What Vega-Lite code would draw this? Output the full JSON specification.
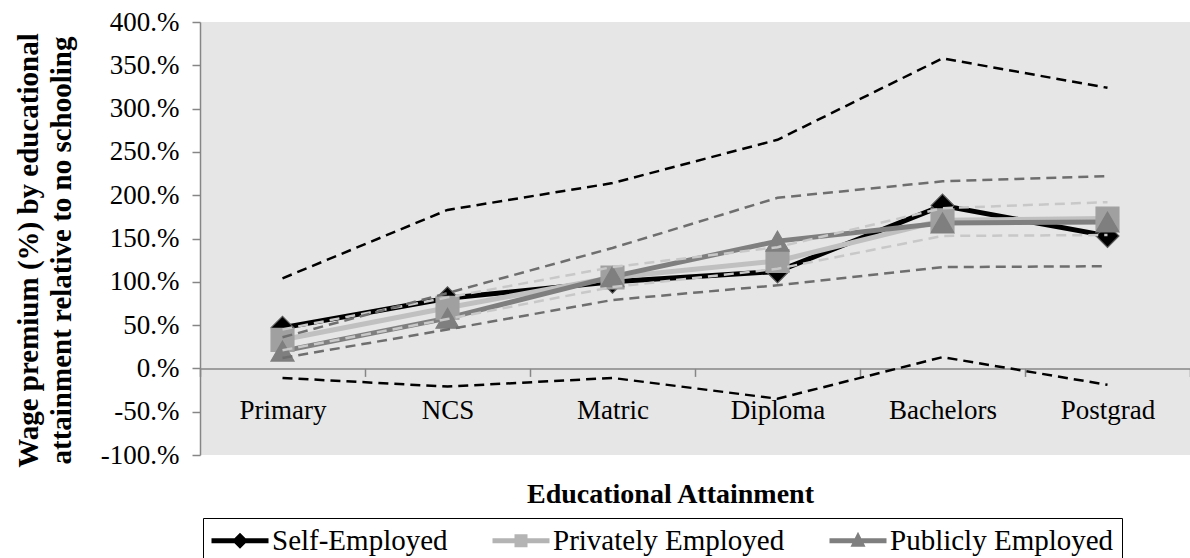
{
  "$schema": "https://vega.github.io/schema/vega-lite/v6.json",
  "width": 990,
  "height": 433,
  "autosize": {"type": "none"},
  "padding": {"left": 200, "top": 22, "right": 0, "bottom": 103},
  "background": "white",
  "config": {
    "view": {"fill": "#e6e6e6", "stroke": null},
    "font": "Liberation Serif",
    "axis": {
      "labelFont": "Liberation Serif",
      "titleFont": "Liberation Serif",
      "labelColor": "black",
      "titleColor": "black",
      "grid": false,
      "domainColor": "#868686",
      "tickColor": "#868686",
      "domainWidth": 1.5,
      "tickWidth": 1.5
    }
  },
  "data": {
    "values": [
      {"edu": "Primary", "series": "Self-Employed", "stat": "est", "value": 47},
      {"edu": "NCS", "series": "Self-Employed", "stat": "est", "value": 81},
      {"edu": "Matric", "series": "Self-Employed", "stat": "est", "value": 100},
      {"edu": "Diploma", "series": "Self-Employed", "stat": "est", "value": 112},
      {"edu": "Bachelors", "series": "Self-Employed", "stat": "est", "value": 188},
      {"edu": "Postgrad", "series": "Self-Employed", "stat": "est", "value": 153},
      {"edu": "Primary", "series": "Privately Employed", "stat": "est", "value": 33},
      {"edu": "NCS", "series": "Privately Employed", "stat": "est", "value": 70},
      {"edu": "Matric", "series": "Privately Employed", "stat": "est", "value": 105},
      {"edu": "Diploma", "series": "Privately Employed", "stat": "est", "value": 124},
      {"edu": "Bachelors", "series": "Privately Employed", "stat": "est", "value": 171},
      {"edu": "Postgrad", "series": "Privately Employed", "stat": "est", "value": 173},
      {"edu": "Primary", "series": "Publicly Employed", "stat": "est", "value": 20},
      {"edu": "NCS", "series": "Publicly Employed", "stat": "est", "value": 58},
      {"edu": "Matric", "series": "Publicly Employed", "stat": "est", "value": 106},
      {"edu": "Diploma", "series": "Publicly Employed", "stat": "est", "value": 147},
      {"edu": "Bachelors", "series": "Publicly Employed", "stat": "est", "value": 168},
      {"edu": "Postgrad", "series": "Publicly Employed", "stat": "est", "value": 169},
      {"edu": "Primary", "series": "Self-Employed", "stat": "lo", "value": -11},
      {"edu": "NCS", "series": "Self-Employed", "stat": "lo", "value": -21},
      {"edu": "Matric", "series": "Self-Employed", "stat": "lo", "value": -11},
      {"edu": "Diploma", "series": "Self-Employed", "stat": "lo", "value": -35},
      {"edu": "Bachelors", "series": "Self-Employed", "stat": "lo", "value": 13},
      {"edu": "Postgrad", "series": "Self-Employed", "stat": "lo", "value": -19},
      {"edu": "Primary", "series": "Self-Employed", "stat": "hi", "value": 104},
      {"edu": "NCS", "series": "Self-Employed", "stat": "hi", "value": 183},
      {"edu": "Matric", "series": "Self-Employed", "stat": "hi", "value": 214},
      {"edu": "Diploma", "series": "Self-Employed", "stat": "hi", "value": 264},
      {"edu": "Bachelors", "series": "Self-Employed", "stat": "hi", "value": 358},
      {"edu": "Postgrad", "series": "Self-Employed", "stat": "hi", "value": 324},
      {"edu": "Primary", "series": "Privately Employed", "stat": "lo", "value": 21},
      {"edu": "NCS", "series": "Privately Employed", "stat": "lo", "value": 57},
      {"edu": "Matric", "series": "Privately Employed", "stat": "lo", "value": 94},
      {"edu": "Diploma", "series": "Privately Employed", "stat": "lo", "value": 115},
      {"edu": "Bachelors", "series": "Privately Employed", "stat": "lo", "value": 153},
      {"edu": "Postgrad", "series": "Privately Employed", "stat": "lo", "value": 154},
      {"edu": "Primary", "series": "Privately Employed", "stat": "hi", "value": 45},
      {"edu": "NCS", "series": "Privately Employed", "stat": "hi", "value": 82},
      {"edu": "Matric", "series": "Privately Employed", "stat": "hi", "value": 117},
      {"edu": "Diploma", "series": "Privately Employed", "stat": "hi", "value": 140},
      {"edu": "Bachelors", "series": "Privately Employed", "stat": "hi", "value": 185},
      {"edu": "Postgrad", "series": "Privately Employed", "stat": "hi", "value": 192},
      {"edu": "Primary", "series": "Publicly Employed", "stat": "lo", "value": 12},
      {"edu": "NCS", "series": "Publicly Employed", "stat": "lo", "value": 45},
      {"edu": "Matric", "series": "Publicly Employed", "stat": "lo", "value": 79},
      {"edu": "Diploma", "series": "Publicly Employed", "stat": "lo", "value": 96},
      {"edu": "Bachelors", "series": "Publicly Employed", "stat": "lo", "value": 117},
      {"edu": "Postgrad", "series": "Publicly Employed", "stat": "lo", "value": 118},
      {"edu": "Primary", "series": "Publicly Employed", "stat": "hi", "value": 36},
      {"edu": "NCS", "series": "Publicly Employed", "stat": "hi", "value": 87},
      {"edu": "Matric", "series": "Publicly Employed", "stat": "hi", "value": 139},
      {"edu": "Diploma", "series": "Publicly Employed", "stat": "hi", "value": 197},
      {"edu": "Bachelors", "series": "Publicly Employed", "stat": "hi", "value": 216},
      {"edu": "Postgrad", "series": "Publicly Employed", "stat": "hi", "value": 222}
    ]
  },
  "encoding": {
    "x": {
      "field": "edu",
      "type": "nominal",
      "sort": ["Primary", "NCS", "Matric", "Diploma", "Bachelors", "Postgrad"],
      "bandPosition": 0.5,
      "scale": {"type": "band", "paddingInner": 0, "paddingOuter": 0},
      "axis": {
        "title": "Educational Attainment",
        "offset": -86.6,
        "tickBand": "extent",
        "tickSize": 8,
        "labelPadding": 42,
        "labelBaseline": "alphabetic",
        "labelFontSize": 27,
        "labelAngle": 0,
        "titleFontSize": 28,
        "titleFontWeight": "bold",
        "titleX": 470,
        "titleY": 134,
        "titleBaseline": "alphabetic"
      }
    },
    "y": {
      "field": "value",
      "type": "quantitative",
      "scale": {"domain": [-100, 400], "nice": false, "zero": false},
      "axis": {
        "title": ["Wage premium (%) by educational", "attainment relative to no schooling"],
        "values": [-100, -50, 0, 50, 100, 150, 200, 250, 300, 350, 400],
        "labelExpr": "datum.value + '.%'",
        "tickSize": 8,
        "labelPadding": 13,
        "labelFontSize": 27,
        "titleFontSize": 29,
        "titleFontWeight": "bold",
        "titleLineHeight": 33,
        "titleAngle": -90,
        "titleAlign": "center",
        "titleBaseline": "alphabetic",
        "titleX": -163,
        "titleY": 228
      }
    }
  },
  "layer": [
    {
      "transform": [{"filter": "datum.stat === 'est'"}],
      "mark": {"type": "line", "strokeWidth": 5},
      "encoding": {
        "color": {
          "field": "series",
          "type": "nominal",
          "scale": {"domain": ["Self-Employed", "Privately Employed", "Publicly Employed"], "range": ["#000000", "#c0c0c0", "#7f7f7f"]},
          "legend": null
        }
      }
    },
    {
      "transform": [{"filter": "datum.stat === 'est'"}],
      "mark": {"type": "point", "filled": true, "opacity": 1, "strokeWidth": 1.2},
      "encoding": {
        "color": {
          "field": "series",
          "type": "nominal",
          "scale": {"domain": ["Self-Employed", "Privately Employed", "Publicly Employed"], "range": ["#000000", "#a0a0a0", "#7f7f7f"]},
          "legend": null
        },
        "shape": {
          "field": "series",
          "type": "nominal",
          "scale": {"domain": ["Self-Employed", "Privately Employed", "Publicly Employed"], "range": ["diamond", "square", "triangle-up"]},
          "legend": null
        },
        "size": {
          "field": "series",
          "type": "nominal",
          "scale": {"domain": ["Self-Employed", "Privately Employed", "Publicly Employed"], "range": [520, 530, 720]},
          "legend": null
        },
        "stroke": {
          "field": "series",
          "type": "nominal",
          "scale": {"domain": ["Self-Employed", "Privately Employed", "Publicly Employed"], "range": ["#595959", "#a0a0a0", "#7f7f7f"]},
          "legend": null
        }
      }
    },
    {
      "transform": [{"filter": "datum.stat !== 'est'"}],
      "mark": {"type": "line", "strokeDash": [10, 6], "strokeWidth": 2.5},
      "encoding": {
        "color": {
          "field": "series",
          "type": "nominal",
          "scale": {"domain": ["Self-Employed", "Privately Employed", "Publicly Employed"], "range": ["#000000", "#c8c8c8", "#6e6e6e"]},
          "legend": null
        },
        "detail": {"field": "stat", "type": "nominal"}
      }
    },
    {
      "transform": [{"filter": "datum.stat === 'est'"}],
      "mark": {"type": "point", "filled": true, "opacity": 0, "size": 0},
      "encoding": {
        "color": {
          "field": "series",
          "type": "nominal",
          "scale": {"domain": ["Self-Employed", "Privately Employed", "Publicly Employed"], "range": ["#000000", "#b4b4b4", "#7f7f7f"]},
          "legend": {
            "orient": "none",
            "legendX": 3,
            "legendY": 496,
            "direction": "horizontal",
            "title": null,
            "labelFontSize": 29,
            "labelFont": "Liberation Serif",
            "labelColor": "black",
            "labelLimit": 500,
            "strokeColor": "black",
            "fillColor": "white",
            "padding": 8,
            "columnPadding": 44,
            "labelOffset": 32,
            "symbolSize": 400,
            "symbolOpacity": 1,
            "symbolStrokeWidth": 0,
            "encode": {"legend": {"strokeWidth": {"value": 1.5}}}
          }
        },
        "shape": {
          "field": "series",
          "type": "nominal",
          "scale": {
            "domain": ["Self-Employed", "Privately Employed", "Publicly Employed"],
            "range": [
              "M-1.4,-0.25H0.9L1.45,-0.8L2.0,-0.25H4.3V0.25H2.0L1.45,0.8L0.9,0.25H-1.4Z",
              "M-1.4,-0.25H0.8V-0.65H2.1V-0.25H4.3V0.25H2.1V0.65H0.8V0.25H-1.4Z",
              "M-1.4,-0.25H4.3V0.25H-1.4Z M1.45,-0.9L2.2,0.6H0.7Z"
            ]
          },
          "legend": {
            "orient": "none",
            "legendX": 3,
            "legendY": 496,
            "direction": "horizontal",
            "title": null,
            "labelFontSize": 29,
            "labelFont": "Liberation Serif",
            "labelColor": "black",
            "labelLimit": 500,
            "strokeColor": "black",
            "fillColor": "white",
            "padding": 8,
            "columnPadding": 44,
            "labelOffset": 32,
            "symbolSize": 400,
            "symbolOpacity": 1,
            "symbolStrokeWidth": 0,
            "encode": {"legend": {"strokeWidth": {"value": 1.5}}}
          }
        }
      }
    }
  ],
  "resolve": {"scale": {"color": "independent", "shape": "independent", "size": "independent", "stroke": "independent"}}
}
